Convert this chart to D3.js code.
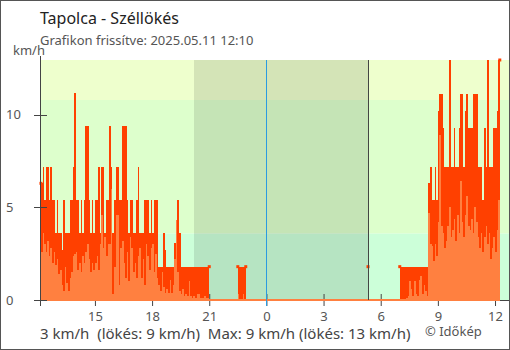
<!DOCTYPE html>
<html><head><meta charset="utf-8">
<script src="https://cdn.jsdelivr.net/npm/d3@7"></script>
<style>
html,body{margin:0;padding:0;background:#fff;}
svg{display:block;font-family:"Noto Sans",sans-serif;}
</style></head><body>
<svg id="c" width="510" height="350"></svg>
<script>
const title = "Tapolca - Széllökés";
const subtitle = "Grafikon frissítve: 2025.05.11 12:10";
const unitLabel = "km/h";
const summary = "3 km/h  (lökés: 9 km/h)  Max: 9 km/h (lökés: 13 km/h)";
const credit = "© Időkép";

const startTime = new Date(2025, 4, 10, 12, 10);
const stepMinutes = 5;
const domainStart = new Date(2025, 4, 10, 12, 7);
const domainEnd = new Date(2025, 4, 11, 12, 44);
const sunset = new Date(2025, 4, 10, 20, 12);
const sunrise = new Date(2025, 4, 11, 5, 20);
const midnight = new Date(2025, 4, 11, 0, 0);

// gust (km/h), one value per 5 minutes from 2025-05-10 12:10
const gust = [
 6.3,7.2,5.4,7.2,7.2,5.4,7.2,5.4,5.4,3.6,
 5.4,3.6,3.6,2.7,5.4,3.6,3.6,3.6,5.4,5.4,
 7.2,11.2,5.4,5.4,3.6,5.4,3.6,5.4,9.4,9.4,
 5.4,3.6,5.4,3.6,5.4,5.4,7.2,3.6,7.2,7.2,
 3.6,5.4,5.4,9.4,7.2,3.6,5.4,7.2,7.2,5.4,
 5.4,9.4,9.4,9.4,5.4,3.6,5.4,5.4,3.6,3.6,
 5.4,7.2,3.6,3.6,3.6,5.4,5.4,5.4,3.6,5.4,
 3.6,5.4,5.4,5.4,1.8,1.8,1.8,3.6,2.7,1.8,
 1.8,1.8,1.8,1.8,3.1,4.3,5.4,3.6,1.8,1.8,
 1.8,1.8,1.8,1.8,1.8,1.8,1.8,1.8,1.8,1.8,
 1.8,1.8,1.8,1.8,1.8,1.8,
 // 21:00 - 22:25 (18)
 null,null,null,null,null,null,null,null,null,null,
 null,null,null,null,null,null,null,null,
 1.8,1.8,1.8,1.8,1.8,
 // 22:55 - 5:15 (77)
 null,null,null,null,null,null,null,null,null,null,
 null,null,null,null,null,null,null,null,null,null,
 null,null,null,null,null,null,null,null,null,null,
 null,null,null,null,null,null,null,null,null,null,
 null,null,null,null,null,null,null,null,null,null,
 null,null,null,null,null,null,null,null,null,null,
 null,null,null,null,null,null,null,null,null,null,
 null,null,null,null,null,null,null,
 1.8,
 // 5:25 - 6:55 (19)
 null,null,null,null,null,null,null,null,null,null,
 null,null,null,null,null,null,null,null,null,
 1.8,1.8,1.8,1.8,1.8,1.8,1.8,1.8,1.8,1.8,
 1.8,1.8,1.8,1.8,1.8,1.8,1.8,1.8,
 6.3,7.2,5.4,5.4,7.2,5.4,10.2,11.1,11.1,9.3,
 7.2,7.2,7.2,12.96,7.2,7.2,9.3,7.2,7.2,9.3,
 11.1,11.1,7.2,10.2,11.1,9.3,9.3,9.3,11.1,11.1,
 11.1,7.2,7.2,7.2,5.4,9.3,7.2,12.96,7.2,7.2,
 7.2,9.3,9.3,10.2,12.96
];

// average wind (km/h), same timestamps
const avg = [
 2.6,3.6,3.0,2.6,3.2,2.4,2.8,2.0,2.6,1.9,
 2.2,1.4,1.6,0.8,0.5,1.8,0.9,0.5,1.2,1.5,
 2.4,2.5,2.6,1.6,2.0,1.5,2.4,2.0,2.6,3.0,
 2.2,1.5,2.0,1.6,2.0,2.4,1.6,3.0,4.6,2.8,
 3.4,2.4,3.0,3.0,6.0,0.3,1.8,4.6,4.6,0.8,
 2.8,3.2,2.0,1.2,2.6,1.0,3.4,2.8,1.5,2.0,
 1.2,2.4,2.8,1.2,2.2,0.8,3.0,2.4,1.6,2.8,
 3.0,1.5,2.5,1.2,0.8,0.5,1.5,0.7,0.4,0.6,
 0.4,1.1,0.4,0.8,2.2,4.3,1.5,0.5,0.3,0.6,
 0.2,0.3,0.2,1.0,0.2,0.1,0.2,0.1,0.3,0.3,
 0.1,0.1,0.1,0.2,0.1,0.1,
 0,0,0,0,0,0,0,0,0,0,
 0,0,0,0,0,0,0,0,
 0.3,0,0,0.3,0,
 0,0,0,0,0,0,0,0,0,0,
 0,0,0,0,0,0,0,0,0,0,
 0,0,0,0,0,0,0,0,0,0,
 0,0,0,0,0,0,0,0,0,0,
 0,0,0,0,0,0,0,0,0,0,
 0,0,0,0,0,0,0,0,0,0,
 0,0,0,0,0,0,0,0,0,0,
 0,0,0,0,0,0,0,0,0,0,
 0,0,0,0,0,0,0,0,0,0,
 0,0,0,0,0,0,0,
 0,0,0,0,0.1,0.2,1.0,0.6,0.2,1.0,
 0.3,0.2,1.1,1.3,0.3,0.8,0.5,0.2,
 4.7,3.0,2.9,2.1,3.0,2.4,4.2,8.9,4.0,3.6,
 2.8,3.2,4.0,5.0,3.4,3.8,4.4,3.2,4.6,3.6,
 6.4,4.2,3.4,4.6,5.6,4.0,3.8,4.4,3.6,5.0,
 4.2,3.4,2.8,3.6,2.6,3.4,4.0,3.0,3.6,2.2,
 2.8,3.4,2.6,3.8,5.4
];

const yTicks = [0, 5, 10];
const bandLimits = [0, 3.6, 10.8, 12.96];
const bandColors = ["#ccffd9", "#ddffcc", "#eeffcd"];

const svg = d3.select("#c");
const x = d3.scaleTime().domain([domainStart, domainEnd]).range([40, 509]);
const y = d3.scaleLinear().domain([0, 12.96]).range([300, 60]);
const times = gust.map((_, i) => d3.timeMinute.offset(startTime, i * stepMinutes));

// bands
svg.selectAll("rect.band").data(bandColors).join("rect")
  .attr("x", 40).attr("width", 469)
  .attr("y", (d, i) => y(bandLimits[i + 1]))
  .attr("height", (d, i) => y(bandLimits[i]) - y(bandLimits[i + 1]))
  .attr("fill", d => d);

// night
svg.append("rect").attr("x", x(sunset)).attr("width", x(sunrise) - x(sunset))
  .attr("y", y(12.96)).attr("height", y(0) - y(12.96)).attr("fill", "rgba(0,0,0,0.105)");

// x axis (under data)
svg.append("line").attr("x1", 34).attr("x2", 509).attr("y1", 300.5).attr("y2", 300.5)
  .attr("stroke", "#444");
const xAxis = d3.axisBottom(x).ticks(d3.timeHour.every(3)).tickFormat(d3.timeFormat("%-H")).tickSize(6);
const gx = svg.append("g").attr("transform", "translate(0,300)").call(xAxis);
gx.select(".domain").remove();
gx.selectAll(".tick line").attr("y1", -6).attr("y2", 6).attr("stroke", "#444");
gx.selectAll(".tick text").attr("y", 21).attr("dy", null)
  .attr("font-family", "Noto Sans").attr("font-size", 13).attr("fill", "#555");

function runs(values) {
  const out = []; let cur = null;
  values.forEach((v, i) => {
    if (v == null) { cur = null; return; }
    if (!cur) { cur = []; out.push(cur); }
    cur.push({ t: times[i], v });
  });
  out.forEach(r => {
    r.single = r.length === 1;
    const last = r[r.length - 1];
    r.push({ t: d3.timeMinute.offset(last.t, stepMinutes), v: last.v });
  });
  return out;
}

const gustRuns = runs(gust);
const gustArea = d3.area().curve(d3.curveStepAfter)
  .x(d => x(d.t)).y0(y(0)).y1(d => y(d.v));
svg.selectAll("path.gust").data(gustRuns.filter(r => !r.single)).join("path")
  .attr("d", gustArea).attr("fill", "#ff4000").attr("shape-rendering", "crispEdges");
// run end caps
const caps = [];
gustRuns.forEach(r => {
  if (r.single) { caps.push(r[0]); return; }
  caps.push(r[0]); caps.push(r[r.length - 1]);
});
svg.selectAll("rect.cap").data(caps).join("rect")
  .attr("x", d => x(d.t) - 1.5).attr("y", d => y(d.v) - 1.5)
  .attr("width", 3).attr("height", 3).attr("fill", "#ff4000");

const avgRuns = runs(avg);
const avgArea = d3.area().curve(d3.curveStepAfter)
  .x(d => x(d.t)).y0(y(0) + 1).y1(d => Math.min(y(d.v), y(0) - 1));
svg.selectAll("path.avg").data(avgRuns).join("path")
  .attr("d", avgArea).attr("fill", "#ff8040").attr("shape-rendering", "crispEdges");

// midnight and sunrise lines
svg.append("line").attr("x1", Math.round(x(midnight)) + 0.5).attr("x2", Math.round(x(midnight)) + 0.5)
  .attr("y1", 60).attr("y2", 306).attr("stroke", "#2b9be0");
svg.append("line").attr("x1", Math.round(x(sunrise)) + 0.5).attr("x2", Math.round(x(sunrise)) + 0.5)
  .attr("y1", 60).attr("y2", 300).attr("stroke", "#444");

// y axis (over data)
svg.append("line").attr("x1", 40.5).attr("x2", 40.5).attr("y1", 56).attr("y2", 306).attr("stroke", "#444");
svg.selectAll("line.ytick").data(yTicks).join("line")
  .attr("x1", 34).attr("x2", 47)
  .attr("y1", d => Math.round(y(d)) + 0.5).attr("y2", d => Math.round(y(d)) + 0.5)
  .attr("stroke", "#444");
svg.selectAll("text.ylab").data(yTicks).join("text")
  .attr("x", 6).attr("y", d => y(d) + 4.5)
  .attr("font-size", 13).attr("fill", "#555").text(d => d);

// texts
svg.append("text").attr("x", 40).attr("y", 24).attr("font-size", 16).attr("fill", "#222").text(title);
svg.append("text").attr("x", 40).attr("y", 45).attr("font-size", 13).attr("fill", "#555").text(subtitle);
svg.append("text").attr("x", 13).attr("y", 55).attr("font-size", 13).attr("fill", "#555").text(unitLabel);
svg.append("text").attr("x", 40).attr("y", 339).attr("font-size", 15).attr("fill", "#444")
  .style("white-space", "pre").text(summary);
svg.append("text").attr("x", 425).attr("y", 336).attr("font-size", 13).attr("fill", "#555").text(credit);

// frame
svg.append("rect").attr("x", 0.5).attr("y", 0.5).attr("width", 509).attr("height", 349)
  .attr("fill", "none").attr("stroke", "#555");
</script>
</body></html>
